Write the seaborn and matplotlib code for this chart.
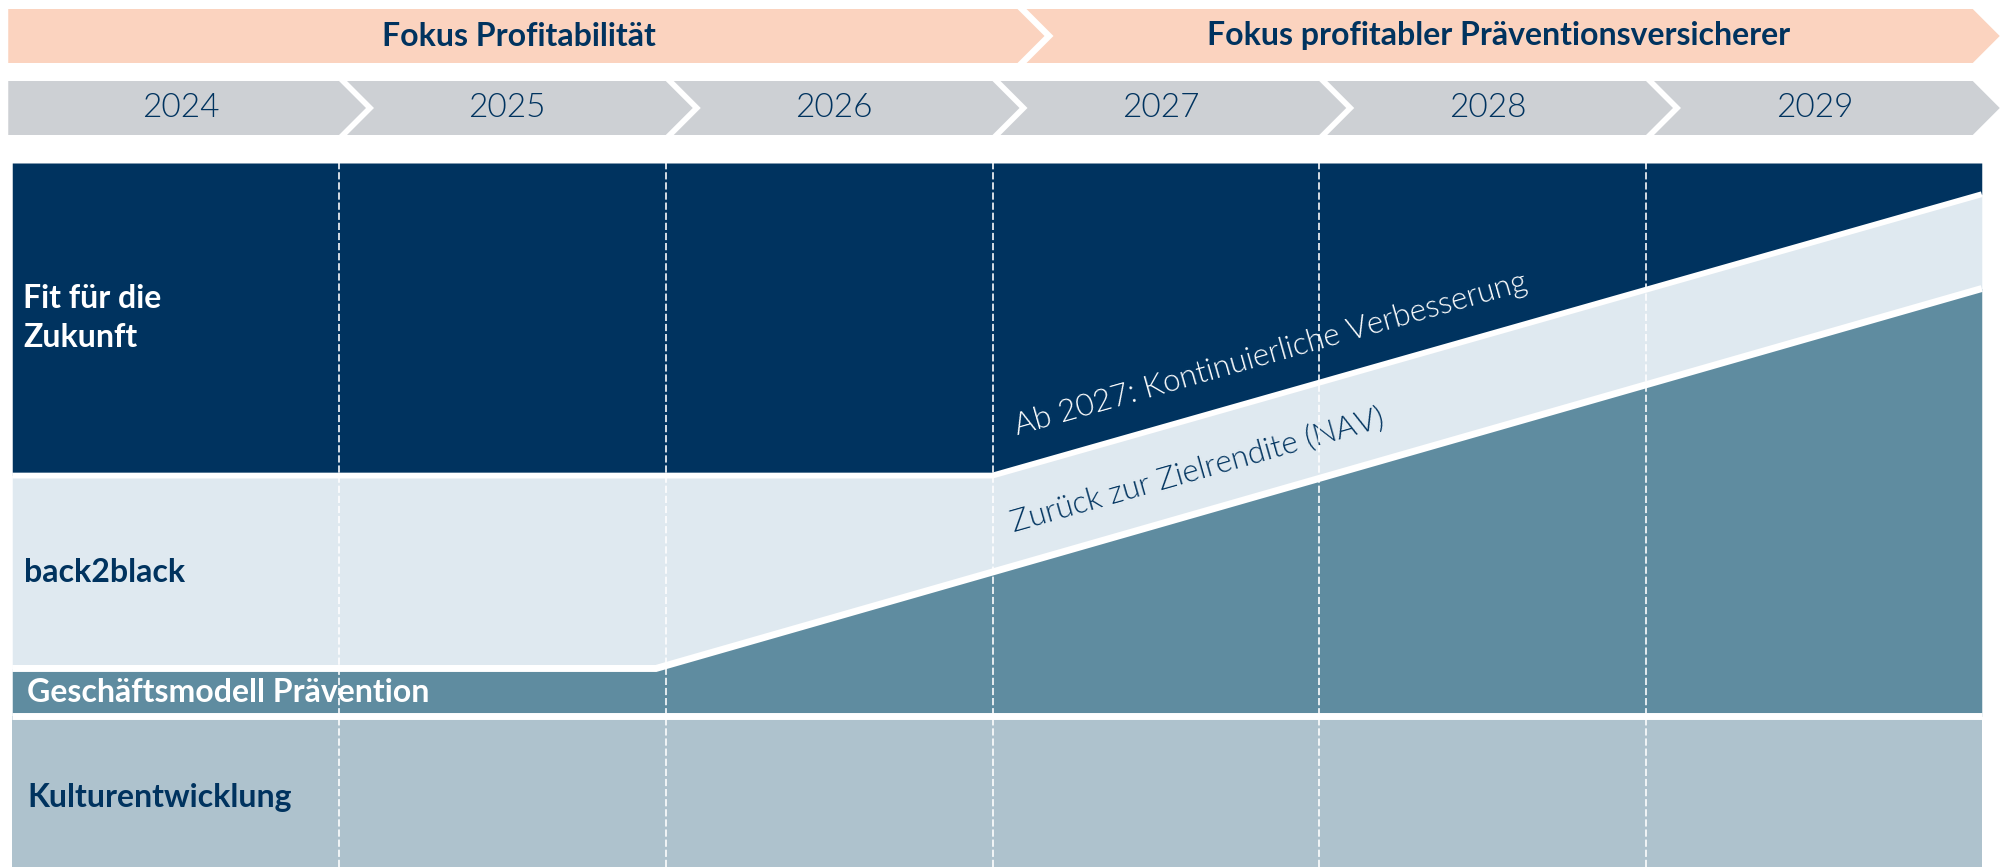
import numpy as np
import seaborn as sns
import matplotlib.pyplot as plt
from matplotlib.patches import Polygon

# Daten
years = [2024, 2025, 2026, 2027, 2028, 2029]
phases = ["Fokus Profitabilität", "Fokus profitabler Präventionsversicherer"]
phase_start = [2024, 2027]

# Grenze Fit für die Zukunft / back2black (Anteil in %)
upper_x = [2024, 2027, 2030]
upper_y = [55.6, 55.6, 95.2]
# Grenze back2black / Geschäftsmodell Prävention
lower_x = [2024, 2025.97, 2030]
lower_y = [28.2, 28.2, 81.8]
# Grenze Geschäftsmodell Prävention / Kulturentwicklung
kultur_y = 21.4

row_labels = ["Fit für die\nZukunft", "back2black", "Geschäftsmodell Prävention", "Kulturentwicklung"]
txt_upper = "Ab 2027: Kontinuierliche Verbesserung"
txt_lower = "Zurück zur Zielrendite (NAV)"

NAVY = "#00335f"
LIGHT = "#dfe9f0"
TEAL = "#5f8ca0"
GREYBLUE = "#aec2cd"
ORANGE = "#fbd3bf"
GREY = "#cdd0d4"

# pixel <-> data helpers (2024 -> 12.25px, 2030 -> 1972.75px ; 0 -> 867px, 100 -> 163px)
W, H = 2005, 867
X0, X1 = 12.25, 1972.75
def px2x(px):
    return 2024 + (px - X0) * 6 / (X1 - X0)
def px2y(py):
    return (867 - py) * 100 / (867 - 163)
pxy = 6 / (X1 - X0)  # years per pixel

sns.set_theme(style="white")
plt.rcParams['font.family'] = ['Lato', 'DejaVu Sans']

fig = plt.figure(figsize=(W / 100, H / 100), dpi=100)
ax = fig.add_axes([0, 0, 1, 1])
ax.set_xlim(px2x(0), px2x(W))
ax.set_ylim(px2y(H), px2y(0))
ax.axis('off')

# rechter Rand der Fläche etwas über 2030 hinaus
x_right = 2030 + 9 * pxy
def extend(xs, ys):
    s = (ys[-1] - ys[-2]) / (xs[-1] - xs[-2])
    return list(xs) + [x_right], list(ys) + [ys[-1] + s * (x_right - xs[-1])]

ux, uy = extend(upper_x, upper_y)
lx, ly = extend(lower_x, lower_y)

# Flächen
xx = sorted(set(ux + lx))
up = np.interp(xx, ux, uy)
lo = np.interp(xx, lx, ly)
ax.fill_between(xx, up, 100, color=NAVY, lw=0)
ax.fill_between(xx, lo, up, color=LIGHT, lw=0)
ax.fill_between(xx, kultur_y, lo, color=TEAL, lw=0)
ax.fill_between([xx[0], xx[-1]], 0, kultur_y, color=GREYBLUE, lw=0)

# weiße Trennlinien
sns.lineplot(x=ux, y=uy, color="white", linewidth=4.2, ax=ax,
             solid_capstyle="butt", solid_joinstyle="miter")
sns.lineplot(x=lx, y=ly, color="white", linewidth=5, ax=ax,
             solid_capstyle="butt", solid_joinstyle="miter")
ax.hlines(kultur_y, xx[0], xx[-1], color="white", linewidth=5)

# gestrichelte Jahresgrenzen
ax.vlines(years[1:], 0, 100, colors="white", linestyles=(0, (4, 1.6)),
          linewidth=1.3, alpha=0.9, zorder=5)

# Chevrons
depth = 27 * pxy
gap = 8 * pxy
def chevron(x_left, x_corner, y_bot, y_top, color, notch):
    ym = (y_bot + y_top) / 2
    pts = [(x_left, y_top), (x_corner, y_top), (x_corner + depth, ym),
           (x_corner, y_bot), (x_left, y_bot)]
    if notch:
        pts.append((x_left + depth, ym))
    ax.add_patch(Polygon(pts, closed=True, color=color, lw=0))

# Phasen (orange)
oy0, oy1 = px2y(63), px2y(9)
phase_end = phase_start[1:] + [2030]
for i, (s, e, name) in enumerate(zip(phase_start, phase_end, phases)):
    left = s - 4 * pxy if i == 0 else s + 34 * pxy
    corner = e + 25 * pxy if i < len(phases) - 1 else e
    chevron(left, corner, oy0, oy1, ORANGE, i > 0)
    ax.text((s + e) / 2 + 0.05, (oy0 + oy1) / 2, name, ha="center", va="center",
            fontsize=23, fontweight="bold", color=NAVY)

# Jahre (grau)
gy0, gy1 = px2y(135), px2y(81)
for i, y in enumerate(years):
    left = y - 4 * pxy if i == 0 else y + gap
    chevron(left, y + 1, gy0, gy1, GREY, i > 0)
    ax.text(y + 0.515, (gy0 + gy1) / 2, str(y), ha="center", va="center",
            fontsize=24, fontweight=300, color=NAVY)

# Zeilenbeschriftungen
ax.text(px2x(23), px2y(318), row_labels[0], ha="left", va="center",
        fontsize=23, fontweight="bold", color="white", linespacing=1.45)
ax.text(px2x(24), px2y(573), row_labels[1], ha="left", va="center",
        fontsize=23, fontweight="bold", color=NAVY)
ax.text(px2x(27), px2y(692), row_labels[2], ha="left", va="center",
        fontsize=23, fontweight="bold", color="white")
ax.text(px2x(27), px2y(797), row_labels[3], ha="left", va="center",
        fontsize=23, fontweight="bold", color=NAVY)

# schräge Texte parallel zur Grenze
p1 = ax.transData.transform((upper_x[1], upper_y[1]))
p2 = ax.transData.transform((upper_x[2], upper_y[2]))
ang = np.degrees(np.arctan2(p2[1] - p1[1], p2[0] - p1[0]))
ax.text(px2x(1017), px2y(435), txt_upper, rotation=ang, rotation_mode="anchor",
        ha="left", va="baseline", fontsize=22.5, fontweight=300, color="white")
ax.text(px2x(1014), px2y(532), txt_lower, rotation=ang, rotation_mode="anchor",
        ha="left", va="baseline", fontsize=22.5, fontweight=300, color=NAVY)

fig.savefig("out.png", dpi=100)
